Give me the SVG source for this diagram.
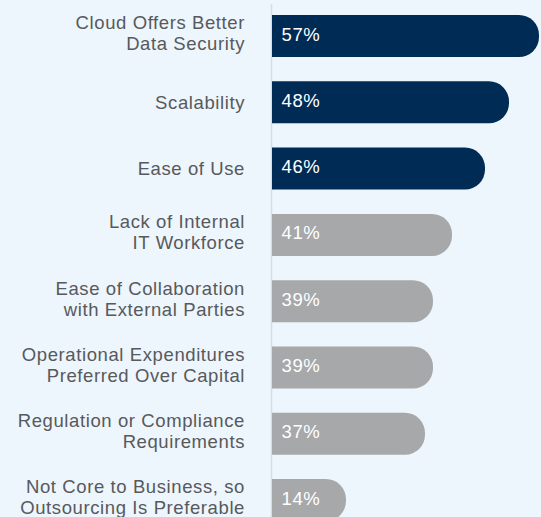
<svg xmlns="http://www.w3.org/2000/svg" width="541" height="517" viewBox="0 0 541 517">
<style>
.lbl{font-family:"Liberation Sans",Arial,sans-serif;font-size:18.5px;letter-spacing:0.6px;fill:#58595B;text-anchor:end}
.pct{font-family:"Liberation Sans",Arial,sans-serif;font-size:18.5px;letter-spacing:0.6px;fill:#FFFFFF}
.dark{fill:#002B55}
.grey{fill:#A7A8AA}
</style>
<rect width="541" height="517" fill="#EDF5FD"/>
<g id="axis"><line x1="271.5" y1="4" x2="271.5" y2="517" stroke="#D8DDE2" stroke-width="1.5"/></g>
<g id="bar1"><path class="dark" d="M272,15 H519 A20,20 0 0 1 539,35 V37 A20,20 0 0 1 519,57 H272 Z"/><text class="pct" x="281.5" y="40.5">57%</text><text class="lbl" x="245" y="29">Cloud Offers Better</text><text class="lbl" x="245" y="50">Data Security</text></g>
<g id="bar2"><path class="dark" d="M272,81.3 H489 A20,20 0 0 1 509,101.3 V103.3 A20,20 0 0 1 489,123.3 H272 Z"/><text class="pct" x="281.5" y="106.8">48%</text><text class="lbl" x="245" y="108.5">Scalability</text></g>
<g id="bar3"><path class="dark" d="M272,147.6 H465 A20,20 0 0 1 485,167.6 V169.6 A20,20 0 0 1 465,189.6 H272 Z"/><text class="pct" x="281.5" y="173.1">46%</text><text class="lbl" x="245" y="174.8">Ease of Use</text></g>
<g id="bar4"><path class="grey" d="M272,213.9 H432 A20,20 0 0 1 452,233.9 V235.9 A20,20 0 0 1 432,255.9 H272 Z"/><text class="pct" x="281.5" y="239.4">41%</text><text class="lbl" x="245" y="228.4">Lack of Internal</text><text class="lbl" x="245" y="249.4">IT Workforce</text></g>
<g id="bar5"><path class="grey" d="M272,280.2 H413 A20,20 0 0 1 433,300.2 V302.2 A20,20 0 0 1 413,322.2 H272 Z"/><text class="pct" x="281.5" y="305.7">39%</text><text class="lbl" x="245" y="294.7">Ease of Collaboration</text><text class="lbl" x="245" y="315.7">with External Parties</text></g>
<g id="bar6"><path class="grey" d="M272,346.5 H413 A20,20 0 0 1 433,366.5 V368.5 A20,20 0 0 1 413,388.5 H272 Z"/><text class="pct" x="281.5" y="372">39%</text><text class="lbl" x="245" y="361">Operational Expenditures</text><text class="lbl" x="245" y="382">Preferred Over Capital</text></g>
<g id="bar7"><path class="grey" d="M272,412.8 H405 A20,20 0 0 1 425,432.8 V434.8 A20,20 0 0 1 405,454.8 H272 Z"/><text class="pct" x="281.5" y="438.3">37%</text><text class="lbl" x="245" y="427.3">Regulation or Compliance</text><text class="lbl" x="245" y="448.3">Requirements</text></g>
<g id="bar8"><path class="grey" d="M272,479.1 H326 A20,20 0 0 1 346,499.1 V501.1 A20,20 0 0 1 326,521.1 H272 Z"/><text class="pct" x="281.5" y="504.6">14%</text><text class="lbl" x="245" y="493">Not Core to Business, so</text><text class="lbl" x="245" y="513.5">Outsourcing Is Preferable</text></g>
</svg>
